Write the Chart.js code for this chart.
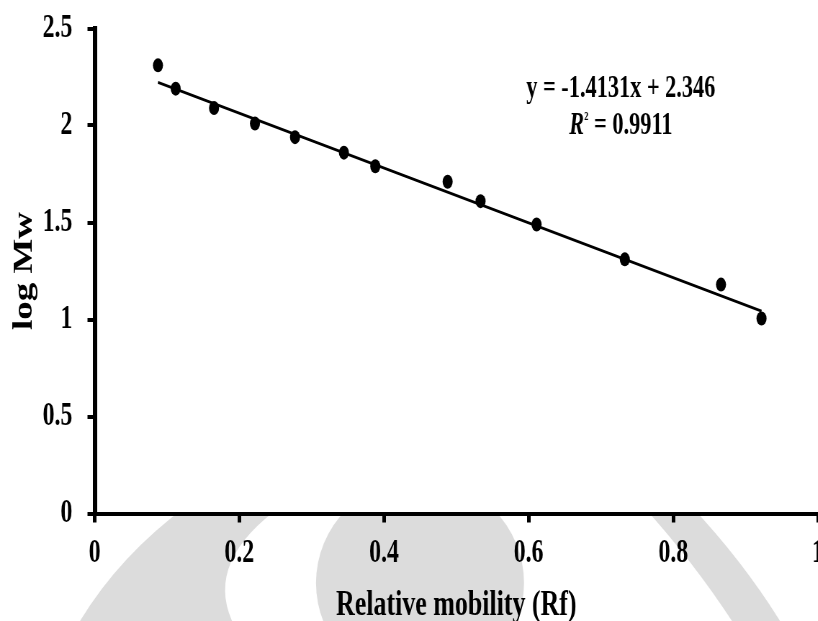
<!DOCTYPE html>
<html lang="en">
<head>
<meta charset="UTF-8">
<title>log Mw vs Rf</title>
<script src="https://cdn.jsdelivr.net/npm/chart.js@4.4.1/dist/chart.umd.min.js"></script>
<style>
    html, body { margin:0; padding:0; overflow:hidden; background:#fff; }
    /* drawn wide, then narrowed: gives the tall condensed look of the exported figure */
    #wrap { width:1136px; height:621px; transform:scaleX(0.72); transform-origin:0 0; }
</style>
</head>
<body>
<div id="wrap"><canvas id="myChart"></canvas></div>
<script>
// marker positions (relative mobility vs log of molecular weight)
var rf     = [0.0875, 0.112, 0.165, 0.2216, 0.277, 0.3446, 0.388, 0.488, 0.5335, 0.611, 0.733, 0.866, 0.922];
var logMw  = [2.31, 2.19, 2.09, 2.01, 1.94, 1.86, 1.79, 1.71, 1.61, 1.49, 1.31, 1.18, 1.005];
// linear fit printed on the plot
var slope = -1.4131;
var intercept = 2.346;
var rSquared = 0.9911;
var xTicks = [0, 0.2, 0.4, 0.6, 0.8, 1];
var yTicks = [0, 0.5, 1, 1.5, 2, 2.5];

var FONT = '"Liberation Serif", "Times New Roman", serif';
var SQ = 0.72; // horizontal squeeze from the css

var pts = [];
for (var i = 0; i < rf.length; i++) pts.push({x: rf[i], y: logMw[i]});

// fit line over the measured range
var xMin = Math.min.apply(null, rf), xMax = Math.max.apply(null, rf);
var fitPts = [
    {x: xMin, y: slope * xMin + intercept},
    {x: xMax, y: slope * xMax + intercept}
];

// faint logo behind the page, plot area stays white
var bgPlugin = {
    id: 'bg',
    beforeDraw: function(chart) {
        var g = chart.ctx, a = chart.chartArea;
        g.save();
        g.fillStyle = '#fff';
        g.fillRect(0, 0, chart.width, chart.height);
        g.scale(1 / SQ, 1); // work in page pixels
        g.fillStyle = '#dcdcdc';
        // left band
        g.beginPath();
        g.moveTo(188, 505); g.lineTo(283, 505);
        g.quadraticCurveTo(205, 560, 232, 621);
        g.lineTo(80, 621);
        g.quadraticCurveTo(120, 555, 188, 505);
        g.fill();
        // centre disc
        g.beginPath();
        g.arc(420, 583, 104, 0, Math.PI * 2);
        g.fill();
        // right band
        g.beginPath();
        g.moveTo(642, 505); g.lineTo(690, 505);
        g.quadraticCurveTo(742, 560, 780, 621);
        g.lineTo(732, 621);
        g.quadraticCurveTo(692, 560, 642, 505);
        g.fill();
        g.restore();
        g.save();
        g.fillStyle = '#fff';
        g.fillRect(a.left, a.top, a.right - a.left, a.bottom - a.top);
        g.restore();
    }
};

// equation and R² text, placed in data units
var eqPlugin = {
    id: 'eq',
    afterDatasetsDraw: function(chart) {
        var g = chart.ctx;
        var sx = chart.scales.x, sy = chart.scales.y;
        var cx = sx.getPixelForValue(0.7275);
        g.save();
        g.fillStyle = '#000';
        g.textBaseline = 'middle';
        g.textAlign = 'center';
        g.font = 'bold 31px ' + FONT;
        g.fillText('y = ' + slope + 'x + ' + intercept, cx, sy.getPixelForValue(2.19));
        // R² line built from pieces
        var y2 = sy.getPixelForValue(2.0);
        var p1 = 'R', p2 = '²', p3 = ' = ' + rSquared;
        g.font = 'italic bold 31px ' + FONT;
        var w1 = g.measureText(p1).width;
        g.font = 'bold 20px ' + FONT;
        var w2 = g.measureText(p2).width;
        g.font = 'bold 31px ' + FONT;
        var w3 = g.measureText(p3).width;
        var x0 = cx - (w1 + w2 + w3) / 2;
        g.textAlign = 'left';
        g.font = 'italic bold 31px ' + FONT;
        g.fillText(p1, x0, y2);
        g.font = 'bold 20px ' + FONT;
        g.fillText(p2, x0 + w1, y2 - 6);
        g.font = 'bold 31px ' + FONT;
        g.fillText(p3, x0 + w1 + w2, y2);
        g.restore();
    }
};

const ctx = document.getElementById('myChart').getContext('2d');
const myChart = new Chart(ctx, {
    type: 'scatter',
    data: {
        datasets: [{
            label: 'log Mw',
            data: pts,
            pointStyle: 'circle',
            pointRadius: 7,
            backgroundColor: '#000',
            borderWidth: 0,
            showLine: false
        },
        {
            type: 'line',
            label: 'fit',
            data: fitPts,
            borderColor: '#000',
            borderWidth: 3,
            pointRadius: 0,
            fill: false
        }]
    },
    plugins: [bgPlugin, eqPlugin],
    options: {
        responsive: true,
        maintainAspectRatio: false,
        animation: false,
        layout: { autoPadding: false, padding: { top: 28.5, left: 0, right: 0, bottom: 0 } },
        plugins: { legend: { display: false }, tooltip: { enabled: false } },
        scales: {
            x: {
                type: 'linear',
                min: 0, max: 1,
                afterBuildTicks: function(s) { s.ticks = xTicks.map(function(v){ return {value: v}; }); },
                afterFit: function(s) { s.height = 107.5; s.paddingLeft = 0; s.paddingRight = 0; },
                border: { display: true, color: '#000', width: 4 },
                grid: { drawOnChartArea: false, color: '#000', lineWidth: 5, tickLength: 9 },
                ticks: {
                    color: '#000', padding: 11, maxRotation: 0,
                    font: { family: FONT, size: 33, weight: 'bold' },
                    callback: function(v) { return String(v); }
                },
                title: {
                    display: true, text: 'Relative mobility (Rf)', color: '#000',
                    font: { family: FONT, size: 36, weight: 'bold' },
                    padding: { top: 0, bottom: -6 }
                }
            },
            y: {
                type: 'linear',
                min: 0, max: 2.5,
                afterBuildTicks: function(s) { s.ticks = yTicks.map(function(v){ return {value: v}; }); },
                afterFit: function(s) { s.width = 131.5; s.paddingTop = 0; s.paddingBottom = 0; },
                border: { display: true, color: '#000', width: 6 },
                grid: { drawOnChartArea: false, color: '#000', lineWidth: 4, tickLength: 10 },
                ticks: {
                    color: '#000', padding: 21,
                    font: { family: FONT, size: 33, weight: 'bold' },
                    callback: function(v) { return String(v); }
                },
                title: {
                    display: true, text: 'log Mw', color: '#000',
                    font: { family: FONT, size: 37, weight: 'bold' },
                    padding: { top: 12.5, bottom: 0 }
                }
            }
        }
    }
});
</script>
</body>
</html>
